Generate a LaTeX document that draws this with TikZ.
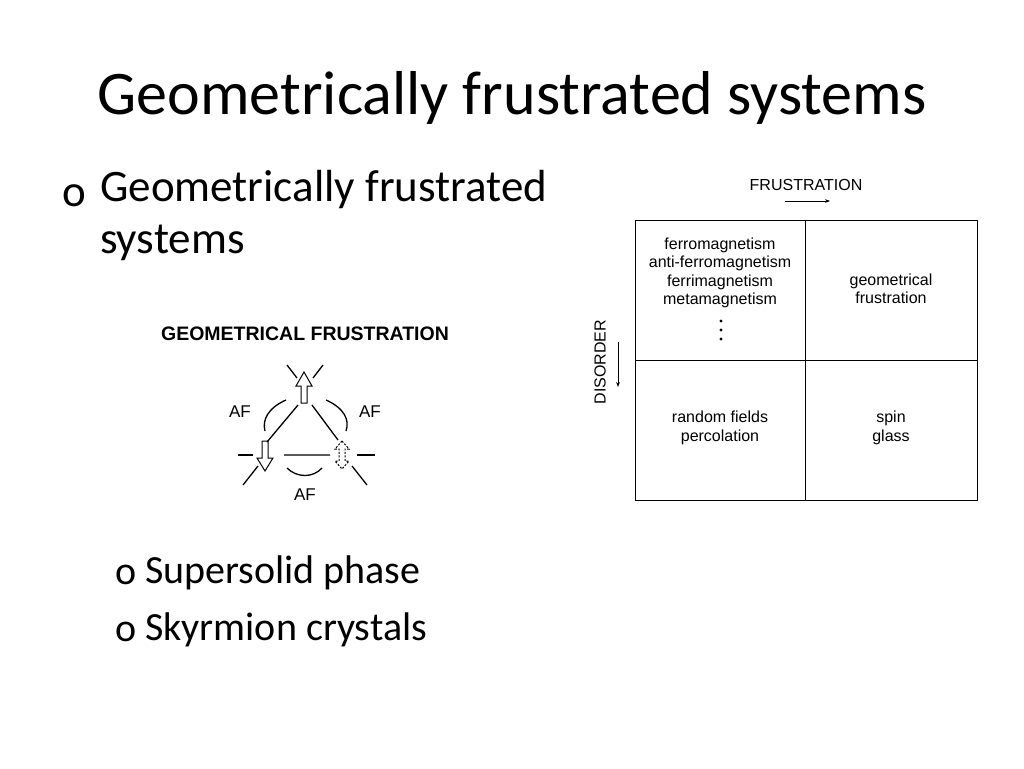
\documentclass[tikz,border=0pt]{standalone}
\usepackage{fontspec}
\setmainfont{Carlito}
\newfontfamily\arial{Liberation Sans}
\usetikzlibrary{arrows.meta}
\begin{document}
\begin{tikzpicture}[x=1pt,y=-1pt,
  sm/.style={font=\arial\fontsize{16}{18.5}\selectfont,align=center,inner sep=0},
  fig/.style={line width=1.3pt},
  body/.style={font=\fontsize{45}{52}\selectfont,anchor=west,inner sep=0},
  sub/.style={font=\fontsize{40}{46}\selectfont,anchor=west,inner sep=0}]
\useasboundingbox (0,0) rectangle (1024,768);
\node[font=\fontsize{62}{70}\selectfont,inner sep=0] (title) at (512,98) {Geometrically frustrated systems};
\node[body] (b1) at (62,196) {o};
\node[body,align=left,anchor=north west] (t1) at (100,170) {Geometrically frustrated\\systems};
\node[sub] (b2) at (115,575) {o};
\node[sub] (t2) at (145,573) {Supersolid phase};
\node[sub] (b3) at (115,632) {o};
\node[sub] (t3) at (145,630) {Skyrmion crystals};
% left figure
\node[font=\arial\bfseries\fontsize{19.5}{22}\selectfont,inner sep=0] (gf) at (305,334) {GEOMETRICAL FRUSTRATION};
\begin{scope}[fig]
\draw (287,365)--(297,378) (323,365)--(313,378);
\draw (298,405)--(267,442) (312,405)--(338,440) (284,455)--(330,455);
\draw (238,455)--(253,455) (357,455)--(375,455);
\draw (243,485)--(258,466) (367,485)--(352,466);
\draw (286,400) .. controls (268,408) and (262,420) .. (265,431);
\draw (326,400) .. controls (344,408) and (350,420) .. (346,431);
\draw (287,468) .. controls (297,478) and (313,478) .. (322,468);
\draw[line width=1pt] (301,403)--(301,386)--(296,386)--(304,372)--(312,386)--(307,386)--(307,403)--cycle;
\draw[line width=1pt] (262,441)--(262,458)--(257,458)--(265,471)--(273,458)--(268,458)--(268,441)--cycle;
\draw[line width=1pt,dash pattern=on 2pt off 1.5pt] (342,441)--(335,449)--(339,449)--(339,461)--(335,461)--(342,469)--(349,461)--(345,461)--(345,449)--(349,449)--cycle;
\end{scope}
\node[sm,font=\arial\fontsize{17}{19}\selectfont] (af1) at (240,412) {AF};
\node[sm,font=\arial\fontsize{17}{19}\selectfont] (af2) at (370,412) {AF};
\node[sm,font=\arial\fontsize{17}{19}\selectfont] (af3) at (305,495) {AF};
% table
\draw[line width=1pt] (635,220) rectangle (977,500);
\draw[line width=1pt] (805,220)--(805,500) (635,360)--(977,360);
\node[sm] (fr) at (806,185) {FRUSTRATION};
\coordinate (fa) at (785,201); \coordinate (fb) at (830,201);
\draw[-{Stealth[length=5pt]},line width=0.8pt] (fa)--(fb);
\node[sm,rotate=90] (dis) at (600,362) {DISORDER};
\coordinate (da) at (618,342); \coordinate (db) at (618,387);
\draw[-{Stealth[length=5pt]},line width=0.8pt] (da)--(db);
\node[sm] (c1) at (720,273) {ferromagnetism\\anti-ferromagnetism\\ferrimagnetism\\metamagnetism};
\fill (721,321) circle (1.7pt) (721,330) circle (1.7pt) (721,339) circle (1.7pt);
\node[sm] (c2) at (891,289) {geometrical\\frustration};
\node[sm] (c3) at (720,428) {random fields\\percolation};
\node[sm] (c4) at (891,428) {spin\\glass};
\end{tikzpicture}
\end{document}
